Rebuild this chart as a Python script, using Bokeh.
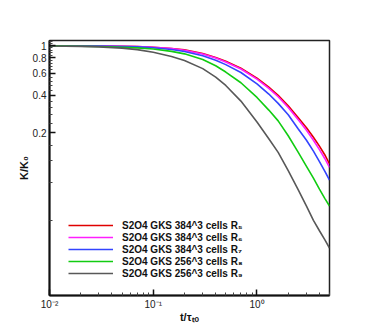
from bokeh.plotting import figure
from bokeh.models import Range1d, FixedTicker, CustomJSTickFormatter, Legend, LegendItem
from bokeh.embed import file_html
from bokeh.resources import INLINE

# time t / tau_to
t = [0.01, 0.02, 0.03, 0.05, 0.07, 0.1, 0.15, 0.2, 0.3, 0.4, 0.5, 0.7, 1.0,
     1.3, 1.6, 2.0, 2.5, 3.0, 3.5, 4.0, 4.5, 5.0]

k_r5 = [0.997, 0.995, 0.993, 0.988, 0.983, 0.972, 0.95, 0.925, 0.865, 0.805, 0.75,
        0.66, 0.55, 0.465, 0.40, 0.33, 0.265, 0.22, 0.185, 0.157, 0.134, 0.113]
k_r6 = [0.997, 0.995, 0.993, 0.988, 0.982, 0.970, 0.947, 0.92, 0.858, 0.797, 0.74,
        0.65, 0.54, 0.455, 0.39, 0.32, 0.255, 0.21, 0.175, 0.147, 0.125, 0.106]
k_r7 = [0.997, 0.994, 0.991, 0.985, 0.978, 0.962, 0.932, 0.897, 0.83, 0.765, 0.705,
        0.61, 0.495, 0.41, 0.345, 0.28, 0.215, 0.175, 0.143, 0.118, 0.099, 0.084]
k_r8 = [0.996, 0.99, 0.984, 0.972, 0.96, 0.94, 0.90, 0.86, 0.775, 0.69, 0.615,
        0.505, 0.385, 0.305, 0.25, 0.19, 0.14, 0.108, 0.087, 0.071, 0.06, 0.052]
k_r9 = [0.995, 0.988, 0.978, 0.955, 0.93, 0.885, 0.82, 0.76, 0.655, 0.56, 0.48,
        0.36, 0.245, 0.18, 0.14, 0.10, 0.07, 0.052, 0.04, 0.033, 0.028, 0.024]

series_labels = ["S2O4 GKS 384^3 cells R\u2085", "S2O4 GKS 384^3 cells R\u2086",
                 "S2O4 GKS 384^3 cells R\u2087", "S2O4 GKS 256^3 cells R\u2088",
                 "S2O4 GKS 256^3 cells R\u2089"]
series_colors = ["#e00000", "#ff1eff", "#3344ff", "#11cc11", "#585858"]

x_major = [0.01, 0.1, 1.0]
x_minor = [0.02, 0.03, 0.04, 0.05, 0.06, 0.07, 0.08, 0.09,
           0.2, 0.3, 0.4, 0.5, 0.6, 0.7, 0.8, 0.9, 2, 3, 4, 5]
y_major = [0.2, 0.4, 0.6, 0.8, 1.0]
y_minor = [0.04, 0.08, 0.12, 0.16, 0.24, 0.28, 0.32, 0.36, 0.44, 0.48, 0.52, 0.56,
           0.64, 0.68, 0.72, 0.76, 0.84, 0.88, 0.92, 0.96, 1.04, 1.08]

FONT = "Liberation Sans"

p = figure(width=370, height=328, x_axis_type="log", y_axis_type="log",
           x_range=Range1d(0.01, 5.0), y_range=Range1d(0.01, 1.1),
           output_backend="svg", toolbar_location=None,
           min_border_left=49, min_border_right=41, min_border_top=40,
           min_border_bottom=33)

p.xgrid.visible = False
p.ygrid.visible = False
p.outline_line_color = "#222222"
p.outline_line_width = 1.5
p.background_fill_color = "white"
p.border_fill_color = "white"

renderers = []
for ys, c in zip([k_r5, k_r6, k_r7, k_r8, k_r9], series_colors):
    r = p.line(t, ys, line_color=c, line_width=1.6)
    renderers.append(r)

xa = p.xaxis[0]
xa.ticker = FixedTicker(ticks=x_major, minor_ticks=x_minor)
xa.formatter = CustomJSTickFormatter(code="""
const e = Math.round(Math.log10(tick));
const m = {"-2": "\u207b\u00b2", "-1": "\u207b\u00b9", "0": "\u2070"};
return "10" + m[String(e)];
""")
xa.axis_label = "t/\u03c4\u209c\u2092"

ya = p.yaxis[0]
ya.ticker = FixedTicker(ticks=y_major, minor_ticks=y_minor)
ya.formatter = CustomJSTickFormatter(code="""
return tick > 0.99 ? "1" : tick.toFixed(1);
""")
ya.axis_label = "K/K\u2080"

for ax in (xa, ya):
    ax.axis_line_color = "#111111"
    ax.axis_line_width = 2
    ax.major_tick_in = 6
    ax.major_tick_out = 0
    ax.minor_tick_in = 3
    ax.minor_tick_out = 0
    ax.major_tick_line_color = "#111111"
    ax.minor_tick_line_color = "#444444"
    ax.major_tick_line_width = 1.5
    ax.major_label_text_font = FONT
    ax.major_label_text_font_size = "10px"
    ax.major_label_text_color = "#222222"
    ax.axis_label_text_font = FONT
    ax.axis_label_text_font_size = "11px"
    ax.axis_label_text_font_style = "bold"
    ax.axis_label_text_color = "#111111"
    ax.major_label_standoff = 3

xa.axis_label_standoff = -2
ya.axis_label_standoff = 0

legend = Legend(
    items=[LegendItem(label=lab, renderers=[r]) for lab, r in zip(series_labels, renderers)],
    location=(19, 16), border_line_color=None, background_fill_alpha=0,
    padding=0, spacing=0, margin=0, glyph_width=45, glyph_height=12,
    label_height=12, label_standoff=9, label_text_font=FONT,
    label_text_font_style="bold", label_text_font_size="10px",
    label_text_color="#111111")
p.add_layout(legend)

open("out.html", "w").write(file_html(p, INLINE))
